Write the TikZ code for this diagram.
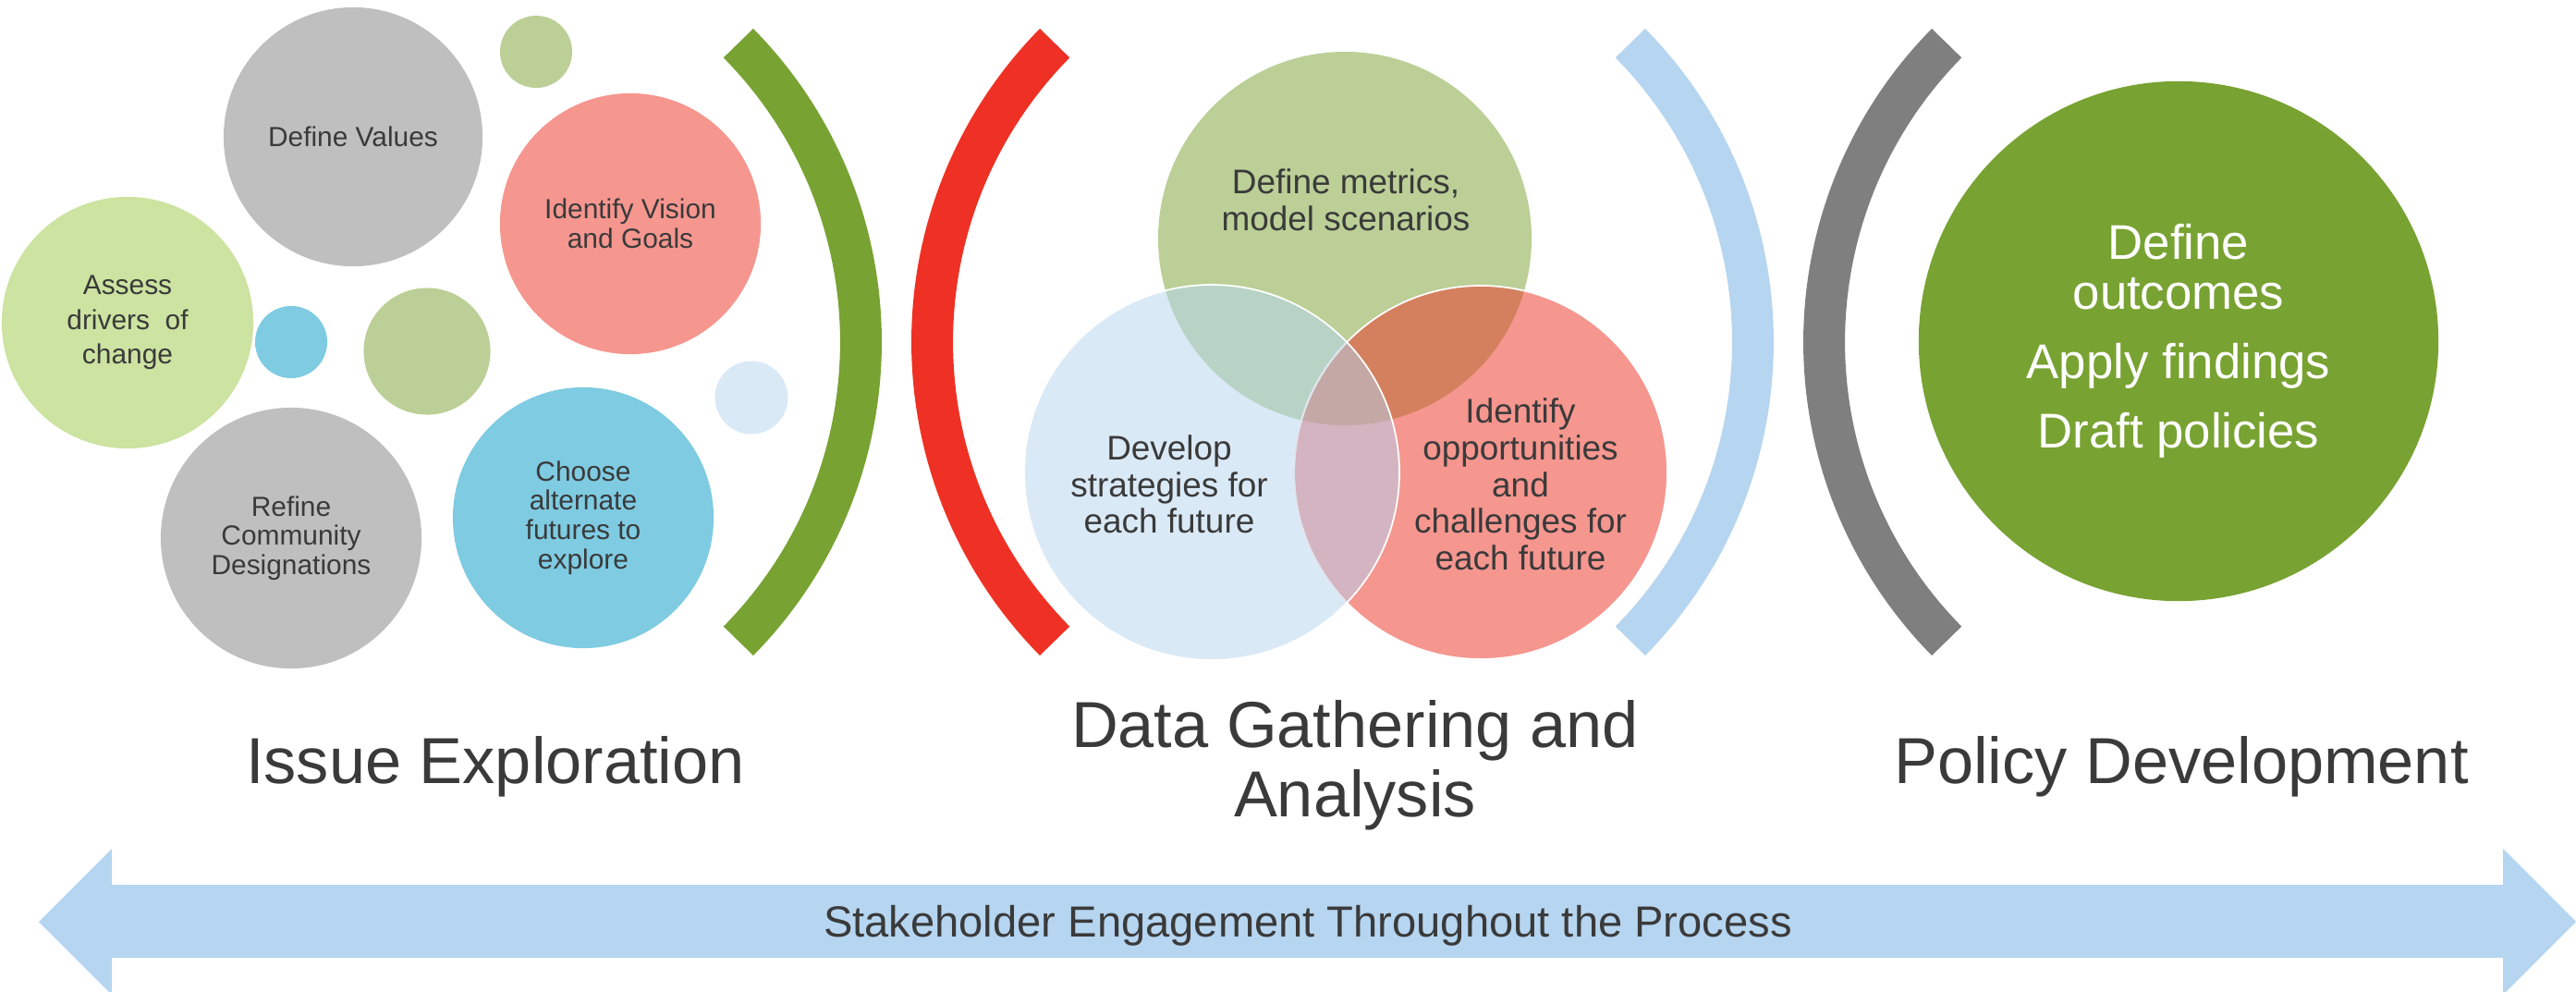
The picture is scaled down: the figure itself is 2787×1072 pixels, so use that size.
\documentclass[tikz,border=0pt]{standalone}
\usepackage{fontspec}
\setmainfont{Liberation Sans}
\usetikzlibrary{positioning}

\definecolor{txtgray}{HTML}{3A3A3A}
\definecolor{cgray}{HTML}{BFBFBF}
\definecolor{clime}{HTML}{CCE3A1}
\definecolor{cpink}{HTML}{F5968F}
\definecolor{cblue}{HTML}{7ECBE2}
\definecolor{cgreen}{HTML}{BBCF97}
\definecolor{cpale}{HTML}{DAE9F6}
\definecolor{colive}{HTML}{78A232}
\definecolor{cred}{HTML}{EE3124}
\definecolor{csky}{HTML}{B6D5F0}
\definecolor{cdark}{HTML}{7F7F7F}
\definecolor{ovGP}{HTML}{D4805E}
\definecolor{ovGB}{HTML}{B8D3C5}
\definecolor{ovBP}{HTML}{D4B4C0}
\definecolor{ovAll}{HTML}{C4A8A5}
\definecolor{faintline}{HTML}{DCE4EE}

\begin{document}
\begin{tikzpicture}[x=0.01cm, y=-0.01cm,
  bubble/.style={circle, inner sep=0pt, align=center, text=txtgray,
    font=\fontsize{8.5}{9}\selectfont},
  venntext/.style={align=center, text=txtgray, font=\fontsize{10.5}{11.3}\selectfont},
  stage/.style={align=center, text=txtgray, font=\fontsize{20}{21.3}\selectfont},
  bracket/.style={line width=0.45cm}]

  \useasboundingbox (0,0) rectangle (2787,1072);

  % issue exploration bubbles
  \node[bubble, fill=cgray, minimum size=2.80cm] (values) at (382,148) {Define Values};
  \node[bubble, fill=cgreen, minimum size=0.78cm] (dotA) at (580,56) {};
  \node[bubble, fill=cpink, minimum size=2.82cm] (vision) at (682,242) {Identify Vision\\and Goals};
  \node[bubble, fill=clime, minimum size=2.72cm, font=\fontsize{8.5}{10.6}\selectfont] (drivers) at (138,349) {Assess\\drivers\ \ of\\change};
  \node[bubble, fill=cblue, minimum size=0.78cm] (dotB) at (315,370) {};
  \node[bubble, fill=cgreen, minimum size=1.37cm] (dotC) at (462,380) {};
  \node[bubble, fill=cpale, minimum size=0.79cm] (dotD) at (813,430) {};
  \node[bubble, fill=cgray, minimum size=2.82cm] (refine) at (315,582) {Refine\\Community\\Designations};
  \node[bubble, fill=cblue, minimum size=2.82cm] (futures) at (631,560) {Choose\\alternate\\futures to\\explore};

  % brackets
  \coordinate (bkA) at (471,370);
  \coordinate (bkB) at (1469,370);
  \coordinate (bkC) at (1436,370);
  \coordinate (bkD) at (2434,370);
  \draw[bracket, colive] (bkA) ++(-44.6:460.5) arc[start angle=-44.6, end angle=44.6, radius=460.5];
  \draw[bracket, cred] (bkB) ++(135.4:460.5) arc[start angle=135.4, end angle=224.6, radius=460.5];
  \draw[bracket, csky] (bkC) ++(-44.6:460.5) arc[start angle=-44.6, end angle=44.6, radius=460.5];
  \draw[bracket, cdark] (bkD) ++(135.4:460.5) arc[start angle=135.4, end angle=224.6, radius=460.5];

  % venn
  \coordinate (vtop) at (1455,258);
  \coordinate (vleft) at (1311,511);
  \coordinate (vright) at (1602,511);
  \fill[cgreen] (vtop) circle[radius=202];
  \fill[cpink] (vright) circle[radius=202];
  \fill[cpale] (vleft) circle[radius=203];
  \begin{scope}
    \clip (vtop) circle[radius=202];
    \fill[ovGP] (vright) circle[radius=202];
    \fill[ovGB] (vleft) circle[radius=203];
  \end{scope}
  \begin{scope}
    \clip (vleft) circle[radius=203];
    \fill[ovBP] (vright) circle[radius=202];
  \end{scope}
  \begin{scope}
    \clip (vtop) circle[radius=202];
    \clip (vleft) circle[radius=203];
    \fill[ovAll] (vright) circle[radius=202];
  \end{scope}
  \draw[white, line width=0.5pt] (vright) circle[radius=202];
  \begin{scope}
    \clip (vleft) circle[radius=203];
    \draw[faintline, line width=0.5pt] (vright) circle[radius=202];
  \end{scope}
  \draw[white, line width=0.5pt] (vleft) circle[radius=203];

  \node[venntext] (metrics) at (1456,216) {Define metrics,\\model scenarios};
  \node[venntext] (strategies) at (1265,524) {Develop\\strategies for\\each future};
  \node[venntext] (challenges) at (1645,524) {Identify\\opportunities\\and\\challenges for\\each future};

  % policy
  \node[circle, fill=colive, inner sep=0pt, minimum size=5.62cm, text=white, align=center,
    font=\fontsize{15}{15.4}\selectfont] (policy) at (2357,369)
    {Define\\outcomes\\[6pt]Apply findings\\[6pt]Draft policies};

  % stage labels
  \node[stage, anchor=base] (issue) at (536,847) {Issue Exploration};
  \node[stage] (data) at (1466,828) {Data Gathering and\\Analysis};
  \node[stage, anchor=base] (develop) at (2360,847) {Policy Development};

  % engagement arrow
  \fill[csky] (42,997) -- (121,918) -- (121,957) -- (2708,957) -- (2708,918)
    -- (2787,997) -- (2708,1076) -- (2708,1036) -- (121,1036) -- (121,1076) -- cycle;
  \node[text=txtgray, font=\fontsize{13.4}{14}\selectfont, anchor=base] (engage) at (1415,1013)
    {Stakeholder Engagement Throughout the Process};
\end{tikzpicture}
\end{document}
